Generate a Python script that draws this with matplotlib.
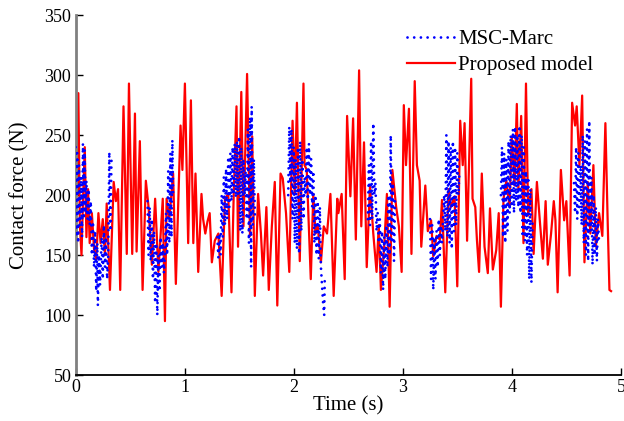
import numpy as np
import matplotlib
matplotlib.use("Agg")
import matplotlib.pyplot as plt

# ---- Proposed model (red solid) ----
red_t = [0.000, 0.005, 0.015, 0.026, 0.040, 0.055, 0.070, 0.085, 0.100, 0.115,
         0.130, 0.150, 0.170, 0.190, 0.210, 0.230, 0.250, 0.270, 0.286, 0.316,
         0.350, 0.370, 0.390, 0.410, 0.440, 0.470, 0.490, 0.520, 0.545, 0.560,
         0.590, 0.615, 0.645, 0.670, 0.700, 0.730, 0.760, 0.800, 0.820, 0.835,
         0.860, 0.895, 0.920, 0.963, 0.980, 1.003, 1.033, 1.058, 1.080, 1.100,
         1.125, 1.155, 1.170, 1.190, 1.210, 1.230, 1.250, 1.277, 1.310, 1.340,
         1.370, 1.400, 1.430, 1.450, 1.476, 1.490, 1.520, 1.540, 1.573, 1.600,
         1.620, 1.644, 1.674, 1.700, 1.720, 1.750, 1.772, 1.800, 1.827, 1.850,
         1.880, 1.900, 1.930, 1.960, 1.990, 2.010, 2.030, 2.056, 2.090, 2.100,
         2.120, 2.157, 2.180, 2.200, 2.220, 2.250, 2.276, 2.306, 2.337, 2.367,
         2.400, 2.410, 2.440, 2.468, 2.490, 2.520, 2.545, 2.570, 2.600, 2.620,
         2.645, 2.670, 2.700, 2.730, 2.760, 2.780, 2.800, 2.830, 2.855, 2.880,
         2.905, 2.940, 2.965, 2.990, 3.010, 3.030, 3.057, 3.080, 3.110, 3.130,
         3.155, 3.170, 3.207, 3.230, 3.260, 3.280, 3.310, 3.340, 3.360, 3.390,
         3.420, 3.440, 3.475, 3.500, 3.527, 3.550, 3.567, 3.590, 3.628, 3.640,
         3.665, 3.680, 3.700, 3.725, 3.750, 3.780, 3.800, 3.826, 3.857, 3.880,
         3.900, 3.924, 3.950, 3.980, 4.000, 4.025, 4.046, 4.060, 4.086, 4.107,
         4.130, 4.150, 4.180, 4.200, 4.230, 4.260, 4.285, 4.310, 4.330, 4.360,
         4.385, 4.400, 4.420, 4.450, 4.480, 4.500, 4.530, 4.553, 4.580, 4.595,
         4.620, 4.645, 4.666, 4.696, 4.720, 4.748, 4.770, 4.800, 4.830, 4.858,
         4.880, 4.895, 4.910]
red_v = [150, 215, 200, 285, 175, 150, 200, 240, 165, 205,
         160, 185, 155, 146, 185, 160, 180, 150, 193, 121,
         211, 195, 205, 121, 274, 151, 293, 151, 268, 153,
         245, 121, 212, 190, 142, 197, 136, 197, 95, 197,
         180, 218, 126, 258, 221, 293, 160, 279, 160, 218,
         136, 201, 180, 168, 178, 185, 144, 162, 168, 116,
         197, 201, 119, 199, 274, 157, 286, 174, 301, 166,
         249, 116, 201, 168, 133, 190, 121, 174, 211, 108,
         218, 214, 185, 136, 262, 201, 277, 145, 293, 225,
         221, 130, 201, 168, 175, 144, 174, 168, 201, 116,
         197, 185, 201, 130, 266, 199, 264, 163, 304, 174,
         244, 140, 208, 168, 136, 175, 121, 157, 201, 107,
         221, 190, 174, 136, 275, 225, 272, 151, 295, 225,
         212, 157, 208, 170, 179, 149, 166, 163, 196, 119,
         205, 190, 199, 124, 262, 225, 260, 162, 297, 197,
         190, 163, 136, 218, 157, 135, 189, 138, 154, 185,
         107, 197, 212, 190, 249, 208, 276, 205, 266, 160,
         293, 183, 205, 151, 211, 175, 147, 195, 142, 168,
         195, 179, 119, 221, 179, 195, 133, 277, 258, 274,
         225, 283, 144, 211, 168, 225, 157, 185, 166, 260,
         174, 121, 120]

# ---- MSC-Marc (blue dotted), clusters ----
blue_t1 = [0.000, 0.008, 0.016, 0.024, 0.032, 0.040, 0.050, 0.060, 0.068, 0.076,
           0.084, 0.092, 0.100, 0.110, 0.120, 0.130, 0.140, 0.150, 0.160, 0.170,
           0.180, 0.190, 0.200, 0.205, 0.215, 0.225, 0.240, 0.250, 0.260, 0.270,
           0.280, 0.290, 0.300, 0.310, 0.320, 0.330]
blue_v1 = [240, 165, 235, 160, 225, 175, 215, 165, 243, 180,
           238, 185, 212, 180, 205, 175, 195, 150, 178, 140,
           170, 120, 160, 108, 150, 125, 165, 130, 175, 140,
           165, 130, 150, 236, 170, 230]
blue_t2 = [0.660, 0.670, 0.680, 0.690, 0.700, 0.710, 0.720, 0.730, 0.740, 0.750,
           0.760, 0.770, 0.780, 0.790, 0.800, 0.810, 0.820, 0.830, 0.840, 0.850,
           0.860, 0.870, 0.880, 0.888, 0.895]
blue_v2 = [195, 150, 190, 145, 180, 130, 170, 110, 160, 100,
           150, 120, 165, 140, 160, 135, 150, 185, 150, 220,
           160, 235, 165, 246, 200]
blue_t3 = [1.300, 1.310, 1.320, 1.330, 1.340, 1.350, 1.360, 1.370, 1.380, 1.390,
           1.400, 1.410, 1.420, 1.430, 1.440, 1.450, 1.460, 1.470, 1.480, 1.490,
           1.500, 1.510, 1.520, 1.530, 1.540, 1.550, 1.560, 1.570, 1.580, 1.590,
           1.600, 1.610, 1.615, 1.625, 1.635, 1.645]
blue_v3 = [165, 148, 168, 150, 200, 165, 215, 175, 222, 180,
           232, 190, 235, 195, 240, 200, 243, 198, 245, 200,
           249, 170, 240, 168, 230, 200, 220, 180, 255, 160,
           265, 140, 274, 175, 230, 180]
blue_t4 = [1.950, 1.960, 1.970, 1.980, 1.990, 2.000, 2.010, 2.020, 2.030, 2.040,
           2.050, 2.060, 2.070, 2.080, 2.090, 2.100, 2.110, 2.120, 2.130, 2.140,
           2.150, 2.160, 2.170, 2.180, 2.190, 2.200, 2.210, 2.220, 2.230, 2.240,
           2.250, 2.260, 2.270, 2.280, 2.285]
blue_v4 = [200, 257, 210, 255, 180, 240, 160, 230, 155, 240,
           151, 245, 170, 230, 180, 215, 200, 240, 196, 243,
           200, 230, 190, 220, 160, 200, 150, 195, 147, 190,
           140, 125, 110, 100, 130]
blue_t5 = [2.680, 2.690, 2.700, 2.710, 2.720, 2.730, 2.740, 2.750, 2.760, 2.770,
           2.780, 2.790, 2.800, 2.810, 2.820, 2.830, 2.840, 2.850, 2.860, 2.870,
           2.880, 2.890, 2.900, 2.910, 2.920, 2.930]
blue_v5 = [180, 225, 175, 245, 180, 260, 200, 210, 170, 185,
           160, 180, 135, 170, 121, 165, 130, 175, 140, 200,
           150, 250, 160, 210, 145, 200]
blue_t6 = [3.250, 3.260, 3.270, 3.280, 3.290, 3.300, 3.310, 3.320, 3.330, 3.340,
           3.350, 3.360, 3.380, 3.390, 3.400, 3.410, 3.420, 3.430, 3.440, 3.450,
           3.460, 3.470, 3.480, 3.490, 3.500, 3.510, 3.520]
blue_v6 = [180, 130, 175, 121, 165, 130, 170, 140, 180, 150,
           175, 160, 200, 170, 250, 165, 245, 160, 240, 155,
           245, 170, 240, 175, 235, 200, 220]
blue_t7 = [3.900, 3.910, 3.920, 3.930, 3.940, 3.950, 3.960, 3.970, 3.980, 3.990,
           4.000, 4.010, 4.020, 4.030, 4.040, 4.050, 4.060, 4.070, 4.080, 4.090,
           4.100, 4.110, 4.120, 4.130, 4.140, 4.150, 4.160, 4.170, 4.180, 4.190]
blue_v7 = [200, 240, 165, 235, 160, 230, 170, 245, 185, 250,
           190, 255, 185, 257, 195, 250, 190, 258, 185, 250,
           165, 240, 162, 220, 150, 215, 130, 205, 127, 180]
blue_t8 = [4.570, 4.580, 4.590, 4.600, 4.610, 4.620, 4.630, 4.640, 4.650, 4.660,
           4.670, 4.680, 4.690, 4.700, 4.710, 4.720, 4.730, 4.740, 4.750, 4.760,
           4.770, 4.780, 4.790, 4.800]
blue_v8 = [210, 185, 240, 180, 235, 190, 225, 175, 250, 160,
           245, 150, 255, 145, 262, 170, 215, 142, 200, 150,
           190, 145, 180, 160]

blue_ts = [blue_t1, blue_t2, blue_t3, blue_t4, blue_t5, blue_t6, blue_t7, blue_t8]
blue_vs = [blue_v1, blue_v2, blue_v3, blue_v4, blue_v5, blue_v6, blue_v7, blue_v8]

x_ticks = [0, 1, 2, 3, 4, 5]
y_ticks = [50, 100, 150, 200, 250, 300, 350]

plt.rcParams['font.family'] = ['Liberation Serif', 'DejaVu Serif']
plt.rcParams['font.size'] = 13

fig = plt.figure(figsize=(6.24, 4.21), dpi=100)
ax = fig.add_axes([0.121, 0.109, 0.874, 0.855])

# build blue with NaN breaks
bt, bv = [], []
for tt, vv in zip(blue_ts, blue_vs):
    bt += list(tt) + [np.nan]
    bv += list(vv) + [np.nan]

ax.plot(bt, bv, color='#0000ff', lw=2.0, linestyle=(0, (0.01, 2.4)),
        dash_capstyle='round', label='MSC-Marc', zorder=3)
ax.plot(red_t, red_v, color='#ff0000', lw=1.6, label='Proposed model', zorder=2)

ax.set_xlim(0, 5)
ax.set_ylim(50, 350)
ax.set_xticks(x_ticks)
ax.set_yticks(y_ticks)
ax.tick_params(direction='in', length=5, width=1, pad=3, labelsize=13)
ax.spines['top'].set_visible(False)
ax.spines['right'].set_visible(False)
ax.spines['left'].set_color('#808080')
ax.spines['left'].set_linewidth(2)
ax.spines['bottom'].set_linewidth(1.3)
ax.set_xlabel('Time (s)', labelpad=0, fontsize=15)
ax.set_ylabel('Contact force (N)', labelpad=11, fontsize=15)

leg = ax.legend(loc='upper right', bbox_to_anchor=(0.972, 0.995), frameon=False,
                handlelength=2.3, handletextpad=0.15, labelspacing=0.3,
                fontsize=15, borderaxespad=0.2)

fig.savefig('out.png', dpi=100)
